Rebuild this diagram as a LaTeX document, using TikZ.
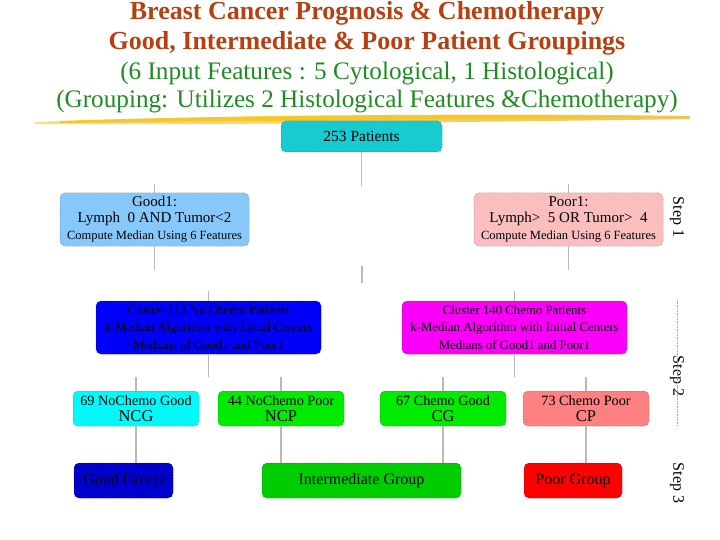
\documentclass[tikz,border=0pt]{standalone}
\usepackage{fontspec}
\setmainfont{Liberation Serif}
\definecolor{titlered}{RGB}{184,64,16}
\definecolor{titlegreen}{RGB}{30,140,30}
\definecolor{cteal}{RGB}{22,204,208}
\definecolor{clblue}{RGB}{135,200,250}
\definecolor{clpink}{RGB}{250,190,190}
\definecolor{cblue}{RGB}{0,0,250}
\definecolor{cmag}{RGB}{250,0,250}
\definecolor{ccyan}{RGB}{0,250,250}
\definecolor{cgreen}{RGB}{0,235,0}
\definecolor{csalmon}{RGB}{255,128,128}
\definecolor{cdblue}{RGB}{0,0,205}
\definecolor{cmgreen}{RGB}{0,205,0}
\definecolor{cred}{RGB}{255,0,0}
\definecolor{stubgray}{RGB}{185,185,185}
\definecolor{brushA}{RGB}{245,200,40}
\definecolor{brushB}{RGB}{235,170,20}
\begin{document}
\begin{tikzpicture}[x=1pt,y=-1pt,
  box/.style={rounded corners=5pt, fill=#1, draw=#1!55!black, densely dotted,
    line width=0.5pt, inner sep=0pt, align=center, text=black},
  stub/.style={draw=stubgray, line width=1.6pt},
  ttl/.style={font=\bfseries\fontsize{26}{28}\selectfont, text=titlered, anchor=base, inner sep=0pt},
  sub/.style={font=\fontsize{25.2}{27}\selectfont, text=titlegreen, anchor=base, inner sep=0pt},
  steplbl/.style={rotate=-90, font=\fontsize{16}{18}\selectfont},
  dotline/.style={draw=gray!70, densely dotted, line width=0.6pt}]
\useasboundingbox (0,0) rectangle (720,540);

% titles
\node[ttl] (t1) at (367,20) {Breast Cancer Prognosis \& Chemotherapy};
\node[ttl] (t2) at (367,50) {Good, Intermediate \& Poor Patient Groupings};
\node[sub] (t3) at (367,80) {(6 Input Features : 5 Cytological, 1 Histological)};
\node[sub] (t4) at (367,108) {(Grouping: Utilizes 2 Histological Features \&Chemotherapy)};

% brush stroke
\shade[left color=brushA!60, right color=brushB!70] (35,122) .. controls (200,115) and (500,113) .. (690,116)
  -- (690,119) .. controls (500,122) and (200,125) .. (35,124) -- cycle;
\fill[brushA] (60,121) .. controls (250,115) and (450,114) .. (640,116)
  -- (640,118) .. controls (450,119) and (250,121) .. (60,123) -- cycle;

% nodes
\node[box=cteal, minimum width=161pt, minimum height=31pt, font=\fontsize{15.5}{17}\selectfont]
  (pat) at (361.5,136.5) {253 Patients};
\node[box=clblue, minimum width=189pt, minimum height=53pt, font=\fontsize{15}{15.5}\selectfont]
  (g1) at (154.5,219.5) {Good1:\\ Lymph\ \ 0 AND Tumor<2\\[2pt] {\fontsize{12.5}{14}\selectfont Compute Median Using 6 Features}};
\node[box=clpink, minimum width=189pt, minimum height=53pt, font=\fontsize{15}{15.5}\selectfont]
  (p1) at (568.5,219.5) {Poor1:\\ Lymph>\ \ 5 OR Tumor>\ \ 4\\[2pt] {\fontsize{12.5}{14}\selectfont Compute Median Using 6 Features}};
\node[box=cblue, minimum width=225pt, minimum height=53pt, font=\fontsize{12.8}{17.5}\selectfont]
  (c1) at (208.5,327.5) {Cluster 113 No Chemo Patients\\ k-Median Algorithm with Initial Centers\\ Medians of Good1 and Poor1};
\node[box=cmag, minimum width=225pt, minimum height=53pt, font=\fontsize{12.8}{17.5}\selectfont]
  (c2) at (514.5,327.5) {Cluster 140 Chemo Patients\\ k-Median Algorithm with Initial Centers\\ Medians of Good1 and Poor1};

\node[box=ccyan, minimum width=126pt, minimum height=35pt, font=\fontsize{14.2}{16}\selectfont]
  (ncg) at (136,408.5) {69 NoChemo Good\\ {\fontsize{16.5}{17}\selectfont NCG}};
\node[box=cgreen, minimum width=126pt, minimum height=35pt, font=\fontsize{14.2}{16}\selectfont]
  (ncp) at (281,408.5) {44 NoChemo Poor\\ {\fontsize{16.5}{17}\selectfont NCP}};
\node[box=cgreen, minimum width=126pt, minimum height=35pt, font=\fontsize{14.2}{16}\selectfont]
  (cg) at (443,408.5) {67 Chemo Good\\ {\fontsize{16.5}{17}\selectfont CG}};
\node[box=csalmon, minimum width=126pt, minimum height=35pt, font=\fontsize{14.2}{16}\selectfont]
  (cp) at (586,408.5) {73 Chemo Poor\\ {\fontsize{16.5}{17}\selectfont CP}};

\node[box=cdblue, minimum width=99pt, minimum height=35pt, font=\fontsize{16}{18}\selectfont]
  (gg) at (123.5,480.5) {Good Group};
\node[box=cmgreen, minimum width=199pt, minimum height=35pt, font=\fontsize{16}{18}\selectfont]
  (ig) at (361.5,480.5) {Intermediate Group};
\node[box=cred, minimum width=98pt, minimum height=35pt, font=\fontsize{16}{18}\selectfont]
  (pg) at (573,480.5) {Poor Group};

% step labels
\node[steplbl] (s1) at (677,217) {Step 1};
\node[steplbl] (s2) at (677,376) {Step 2};
\node[steplbl] (s3) at (677,483) {Step 3};
\coordinate (d1a) at (677,300);
\coordinate (d2b) at (677,426);
\draw[dotline, shorten >=4pt] (d1a) -- (s2.east);
\draw[dotline, shorten <=4pt] (s2.west) -- (d2b);

% connector stubs
\draw[stub] (pat.south) -- ++(0,34);
\draw[stub] (g1.north) -- ++(0,-9);
\draw[stub] (p1.north) -- ++(0,-9);
\draw[stub] (g1.south) -- ++(0,24);
\draw[stub] (p1.south) -- ++(0,24);
\coordinate (ma) at (362,266);
\coordinate (mb) at (362,283);
\draw[stub] (ma) -- (mb);
\draw[stub] (c1.north) -- ++(0,-10);
\draw[stub] (c2.north) -- ++(0,-10);
\draw[stub] (c1.south) -- ++(0,23);
\draw[stub] (c2.south) -- ++(0,23);
\draw[stub] (ncg.north) -- ++(0,-14);
\draw[stub] (ncp.north) -- ++(0,-14);
\draw[stub] (cg.north) -- ++(0,-14);
\draw[stub] (cp.north) -- ++(0,-14);
\draw[stub] (ncg.south) -- (ncg.south |- gg.north);
\draw[stub] (ncp.south) -- (ncp.south |- ig.north);
\draw[stub] (cg.south) -- (cg.south |- ig.north);
\draw[stub] (cp.south) -- (cp.south |- pg.north);
\end{tikzpicture}
\end{document}
